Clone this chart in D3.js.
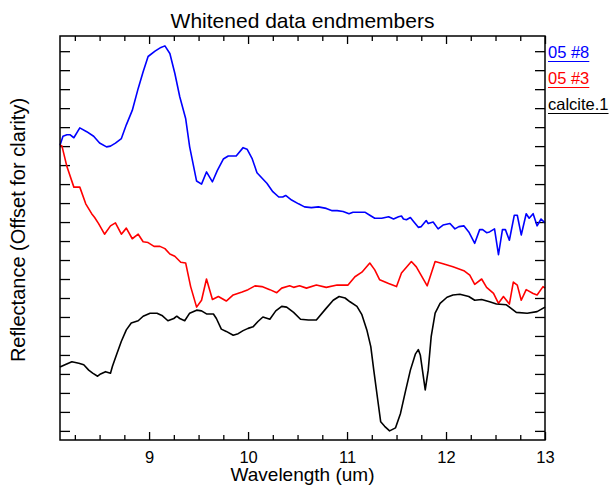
<!DOCTYPE html>
<html>
<head>
<meta charset="utf-8">
<script src="https://cdn.jsdelivr.net/npm/d3@7"></script>
<style>
    body { margin: 0; background: #fff; }
    svg text { font-family: "Liberation Sans", Arial, Helvetica, sans-serif; }
</style>
</head>
<body>
<script>
// wavelength (um), offset reflectance
const names = ["05 #8", "05 #3", "calcite.1"];
const colors = ["#0000ff", "#ff0000", "#000000"];

const s05_8 = [
    [8.10, 3.76], [8.13, 3.88], [8.17, 3.90], [8.20, 3.90], [8.24, 3.86], [8.30, 3.99], [8.37, 3.94],
    [8.44, 3.88], [8.50, 3.79], [8.57, 3.74], [8.61, 3.75], [8.66, 3.79], [8.72, 3.85], [8.77, 4.03],
    [8.83, 4.22], [8.89, 4.51], [8.94, 4.73], [8.99, 4.93], [9.06, 5.00], [9.12, 5.05], [9.16, 5.07],
    [9.21, 4.97], [9.26, 4.71], [9.31, 4.40], [9.37, 4.11], [9.41, 3.74], [9.48, 3.29], [9.53, 3.25],
    [9.58, 3.41], [9.64, 3.28], [9.69, 3.43], [9.75, 3.58], [9.80, 3.62], [9.88, 3.62], [9.95, 3.73],
    [9.99, 3.71], [10.04, 3.59], [10.09, 3.40], [10.19, 3.26], [10.25, 3.15], [10.31, 3.08], [10.35, 3.08],
    [10.38, 3.10], [10.44, 3.04], [10.51, 2.99], [10.57, 2.95], [10.64, 2.94], [10.71, 2.95], [10.79, 2.93],
    [10.85, 2.90], [10.90, 2.90], [10.96, 2.89], [11.02, 2.86], [11.06, 2.88], [11.18, 2.88], [11.23, 2.84],
    [11.28, 2.80], [11.35, 2.80], [11.42, 2.82], [11.47, 2.79], [11.52, 2.82], [11.55, 2.83], [11.57, 2.79],
    [11.60, 2.78], [11.64, 2.81], [11.67, 2.76], [11.72, 2.68], [11.75, 2.69], [11.80, 2.77], [11.82, 2.73],
    [11.87, 2.75], [11.92, 2.66], [11.97, 2.71], [12.04, 2.73], [12.09, 2.66], [12.13, 2.69], [12.18, 2.70],
    [12.23, 2.62], [12.29, 2.47], [12.34, 2.65], [12.37, 2.65], [12.41, 2.61], [12.44, 2.62], [12.49, 2.66],
    [12.53, 2.32], [12.57, 2.65], [12.60, 2.65], [12.64, 2.51], [12.69, 2.84], [12.72, 2.84], [12.76, 2.58],
    [12.81, 2.86], [12.84, 2.80], [12.88, 2.86], [12.92, 2.70], [12.96, 2.79], [13.00, 2.74]
];

const s05_3 = [
    [8.10, 3.76], [8.12, 3.75], [8.17, 3.48], [8.24, 3.21], [8.30, 3.21], [8.36, 2.99], [8.42, 2.86],
    [8.45, 2.81], [8.49, 2.73], [8.55, 2.59], [8.61, 2.70], [8.66, 2.74], [8.72, 2.59], [8.77, 2.67],
    [8.83, 2.53], [8.89, 2.59], [8.94, 2.49], [8.99, 2.48], [9.05, 2.43], [9.11, 2.43], [9.16, 2.40],
    [9.21, 2.33], [9.26, 2.30], [9.32, 2.22], [9.37, 2.21], [9.42, 1.90], [9.48, 1.63], [9.53, 1.72],
    [9.58, 2.00], [9.64, 1.73], [9.70, 1.77], [9.78, 1.71], [9.85, 1.79], [9.94, 1.83], [10.00, 1.86],
    [10.07, 1.91], [10.14, 1.90], [10.22, 1.86], [10.29, 1.82], [10.34, 1.88], [10.42, 1.91], [10.46, 1.89],
    [10.52, 1.91], [10.59, 1.88], [10.69, 1.92], [10.79, 1.89], [10.90, 1.92], [11.01, 1.92], [11.08, 2.03],
    [11.15, 2.09], [11.23, 2.21], [11.28, 2.12], [11.33, 1.99], [11.42, 1.94], [11.50, 1.90], [11.55, 2.08],
    [11.65, 2.23], [11.70, 2.16], [11.81, 1.91], [11.89, 2.23], [11.97, 2.20], [12.07, 2.16], [12.18, 2.11],
    [12.24, 2.05], [12.29, 1.93], [12.36, 2.00], [12.41, 1.89], [12.48, 1.81], [12.53, 1.68], [12.58, 1.77],
    [12.64, 1.67], [12.68, 1.96], [12.72, 1.92], [12.76, 1.72], [12.81, 1.86], [12.88, 1.81], [12.92, 1.79],
    [12.98, 1.90], [13.00, 1.88]
];

const calcite1 = [
    [8.10, 0.84], [8.15, 0.87], [8.22, 0.91], [8.29, 0.89], [8.34, 0.87], [8.39, 0.80], [8.43, 0.76],
    [8.48, 0.72], [8.51, 0.75], [8.56, 0.78], [8.61, 0.76], [8.63, 0.85], [8.67, 1.00], [8.72, 1.18],
    [8.77, 1.33], [8.82, 1.42], [8.89, 1.45], [8.94, 1.51], [9.01, 1.55], [9.08, 1.55], [9.13, 1.52],
    [9.19, 1.45], [9.25, 1.48], [9.28, 1.51], [9.31, 1.48], [9.36, 1.45], [9.41, 1.55], [9.48, 1.59],
    [9.53, 1.58], [9.58, 1.54], [9.65, 1.54], [9.68, 1.48], [9.73, 1.34], [9.78, 1.31], [9.85, 1.26],
    [9.90, 1.28], [9.95, 1.32], [10.00, 1.35], [10.05, 1.37], [10.10, 1.44], [10.15, 1.50], [10.22, 1.47],
    [10.28, 1.58], [10.34, 1.64], [10.39, 1.63], [10.46, 1.56], [10.53, 1.47], [10.61, 1.46], [10.69, 1.46],
    [10.78, 1.60], [10.86, 1.72], [10.92, 1.77], [10.98, 1.75], [11.03, 1.70], [11.10, 1.64], [11.15, 1.53],
    [11.20, 1.33], [11.24, 1.11], [11.27, 0.80], [11.31, 0.41], [11.34, 0.12], [11.38, 0.06], [11.43, 0.00],
    [11.49, 0.04], [11.54, 0.23], [11.59, 0.52], [11.64, 0.80], [11.69, 1.01], [11.72, 1.07], [11.74, 1.00],
    [11.79, 0.54], [11.82, 0.80], [11.85, 1.24], [11.89, 1.55], [11.94, 1.68], [12.01, 1.76], [12.07, 1.79],
    [12.14, 1.80], [12.23, 1.77], [12.29, 1.72], [12.36, 1.73], [12.44, 1.70], [12.51, 1.67], [12.61, 1.66],
    [12.71, 1.56], [12.82, 1.55], [12.92, 1.57], [13.00, 1.63]
];

const seriesList = [s05_8, s05_3, calcite1];
const wlTicks = [9, 10, 11, 12, 13];

const width = 613, height = 485;
const margin = { left: 60, right: 68, top: 36, bottom: 45 };

let svg = d3.select("body").append("svg")
    .attr("width", width)
    .attr("height", height);

let x = d3.scaleLinear().domain([8.1, 13]).range([margin.left, width - margin.right]);
let y = d3.scaleLinear().domain([-0.12, 5.2]).range([height - margin.bottom, margin.top]);

let xMinor = d3.range(8.25, 13.001, 0.25).filter(v => Math.abs(v - Math.round(v)) > 0.01);
let yMajor = d3.range(0, 6, 1);
let yMinor = d3.range(0, 5.01, 0.25).filter(v => Math.abs(v - Math.round(v)) > 0.01);

let plotBottom = height - margin.bottom;
let plotRight = width - margin.right;

function drawAxis(axis, tx, ty) {
    let g = svg.append("g")
        .attr("transform", `translate(${tx},${ty})`)
        .call(axis);
    g.select(".domain").remove();
    g.selectAll(".tick line").attr("stroke", "#000").attr("stroke-width", 1.3);
    return g;
}

// bottom
let gb = drawAxis(d3.axisBottom(x).tickValues(wlTicks).tickSize(-8).tickPadding(11).tickFormat(d3.format("d")), 0, plotBottom);
gb.selectAll("text").style("font-size", "16.5px").attr("fill", "#000");
drawAxis(d3.axisBottom(x).tickValues(xMinor).tickSize(-5).tickFormat(""), 0, plotBottom);
// top
drawAxis(d3.axisTop(x).tickValues(wlTicks).tickSize(-8).tickFormat(""), 0, margin.top);
drawAxis(d3.axisTop(x).tickValues(xMinor).tickSize(-5).tickFormat(""), 0, margin.top);
// left
drawAxis(d3.axisLeft(y).tickValues(yMajor).tickSize(-10).tickFormat(""), margin.left, 0);
drawAxis(d3.axisLeft(y).tickValues(yMinor).tickSize(-10).tickFormat(""), margin.left, 0);
// right
drawAxis(d3.axisRight(y).tickValues(yMajor).tickSize(-10).tickFormat(""), plotRight, 0);
drawAxis(d3.axisRight(y).tickValues(yMinor).tickSize(-10).tickFormat(""), plotRight, 0);

let line = d3.line()
    .x(d => x(d[0]))
    .y(d => y(d[1]));

svg.append("g")
    .selectAll("path")
    .data(seriesList)
    .join("path")
    .attr("d", line)
    .attr("fill", "none")
    .attr("stroke", (d, i) => colors[i])
    .attr("stroke-width", 1.6)
    .attr("stroke-linejoin", "round");

// frame
svg.append("rect")
    .attr("x", margin.left)
    .attr("y", margin.top)
    .attr("width", plotRight - margin.left)
    .attr("height", plotBottom - margin.top)
    .attr("fill", "none")
    .attr("stroke", "#000")
    .attr("stroke-width", 1.5);

// title and axis labels
svg.append("text")
    .attr("x", (margin.left + plotRight) / 2)
    .attr("y", 28)
    .attr("text-anchor", "middle")
    .style("font-size", "21px")
    .text("Whitened data endmembers");

svg.append("text")
    .attr("x", (margin.left + plotRight) / 2)
    .attr("y", 481)
    .attr("text-anchor", "middle")
    .style("font-size", "19px")
    .text("Wavelength (um)");

svg.append("text")
    .attr("transform", `translate(25,230) rotate(-90)`)
    .attr("text-anchor", "middle")
    .style("font-size", "20px")
    .text("Reflectance (Offset for clarity)");

// legend
let legend = svg.append("g");
names.forEach((name, i) => {
    let yy = 58 + i * 26;
    let t = legend.append("text")
        .attr("x", plotRight + 3)
        .attr("y", yy)
        .attr("fill", colors[i])
        .style("font-size", "16.5px")
        .text(name);
    let len = t.node().getComputedTextLength();
    legend.append("line")
        .attr("x1", plotRight + 3)
        .attr("x2", plotRight + 3 + len)
        .attr("y1", yy + 3.5)
        .attr("y2", yy + 3.5)
        .attr("stroke", colors[i])
        .attr("stroke-width", 1);
});
</script>
</body>
</html>
